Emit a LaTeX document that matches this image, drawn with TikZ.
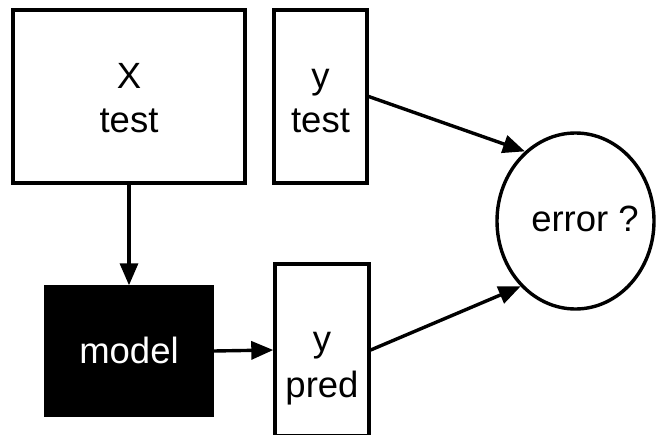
\documentclass[tikz,border=0pt]{standalone}
\usepackage{fontspec}
\setmainfont{Liberation Sans}
\usetikzlibrary{arrows.meta,shapes.geometric}

\tikzset{
  box/.style={draw=black, line width=3.4pt, rectangle, inner sep=0pt},
  blackbox/.style={box, fill=black},
  oval/.style={draw=black, line width=3.4pt, ellipse, inner sep=0pt},
  lbl/.style={anchor=base, inner sep=0pt, font=\fontsize{36.5}{44}\selectfont},
  flow/.style={line width=3.4pt, -{Triangle[length=22pt,width=18pt]}}
}

\begin{document}
\begin{tikzpicture}[x=1pt, y=-1pt]
  \useasboundingbox (0,0) rectangle (656,434);

  % boxes
  \node[box, minimum width=232pt, minimum height=173pt] (xtest) at (129,96.5) {};
  \node[box, minimum width=93pt, minimum height=173pt] (ytest) at (320.5,96.5) {};
  \node[blackbox, minimum width=166pt, minimum height=128pt] (model) at (129,351) {};
  \node[box, minimum width=94pt, minimum height=172pt] (ypred) at (322,350) {};
  \node[oval, minimum width=157pt, minimum height=176pt] (err) at (575.5,221) {};

  % labels
  \node[lbl] (xtestA) at (129,88) {X};
  \node[lbl] (xtestB) at (129,132) {test};
  \node[lbl] (ytestA) at (320.5,88) {y};
  \node[lbl] (ytestB) at (320.5,132) {test};
  \node[lbl, text=white] (modelA) at (129,363) {model};
  \node[lbl] (ypredA) at (322,351) {y};
  \node[lbl] (ypredB) at (322,397) {pred};
  \node[lbl] (errA) at (585,231) {error ?};

  % connectors
  \draw[flow] (xtest.south) -- (model.north);
  \draw[flow] (model.east) -- (ypred.west);
  \draw[flow] (ytest.east) -- (err.126.6);
  \draw[flow] (ypred.east) -- (err.230.6);
\end{tikzpicture}
\end{document}
